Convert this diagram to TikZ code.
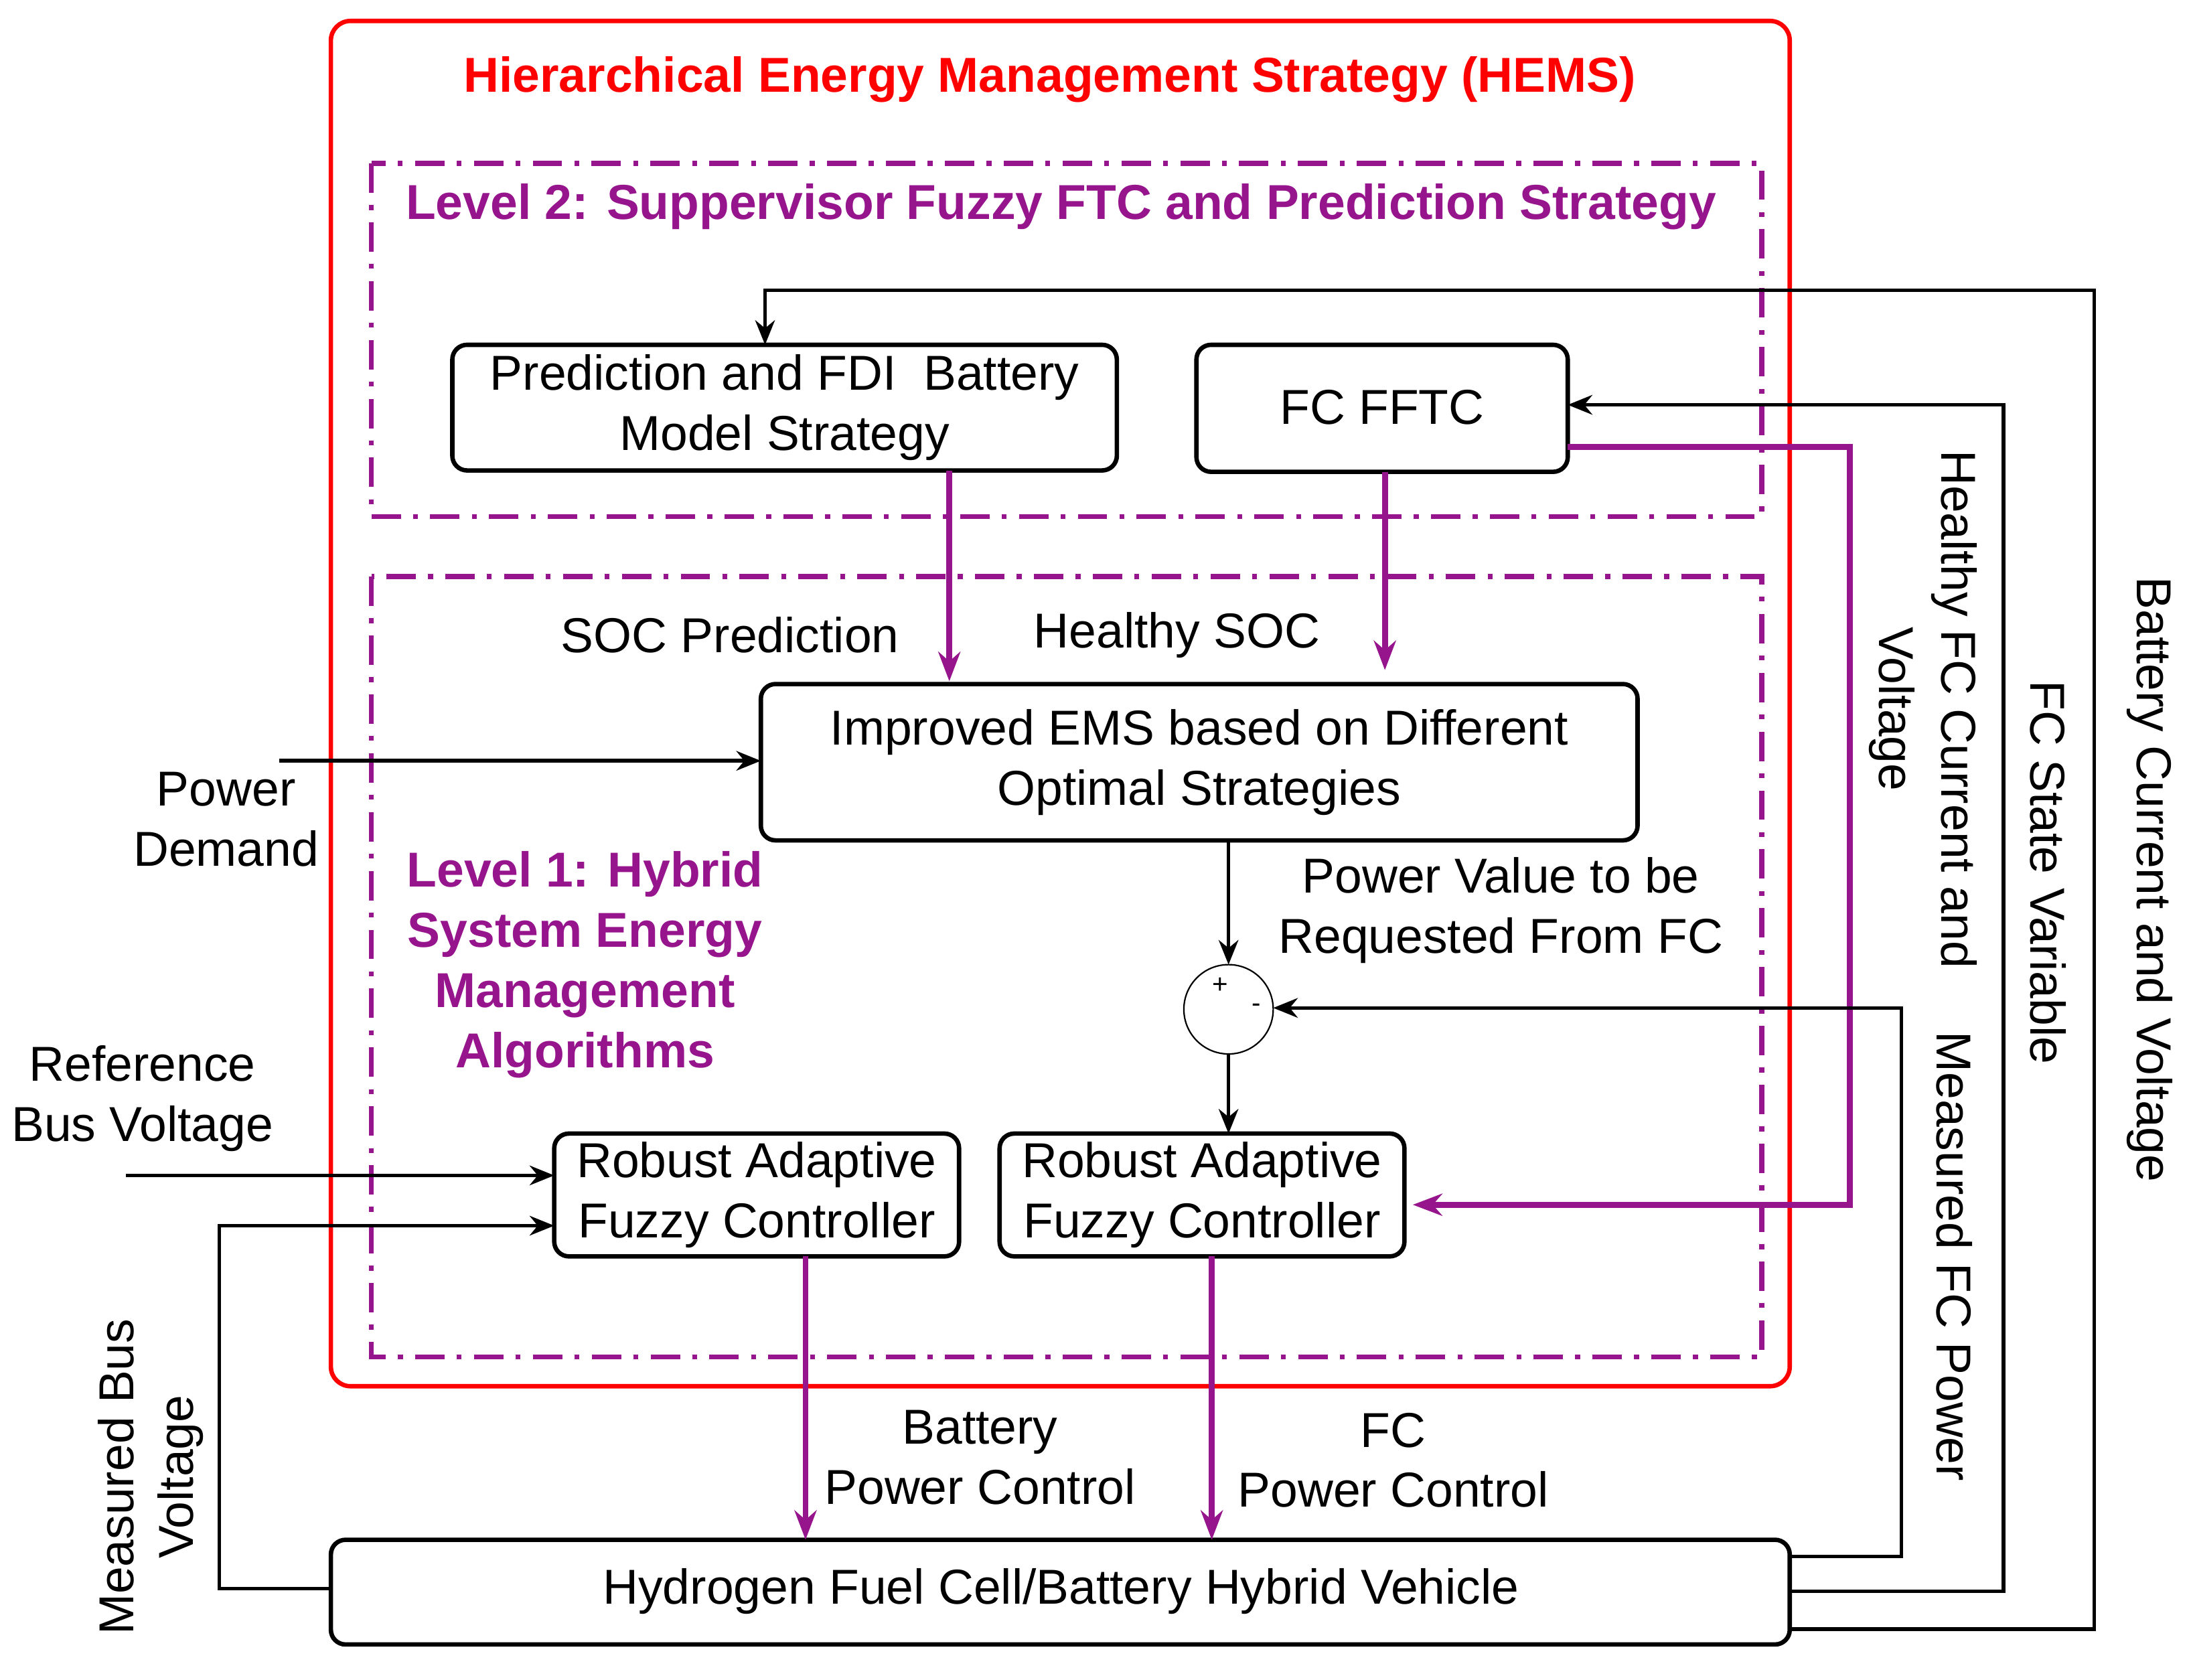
\documentclass[tikz,border=0pt]{standalone}
\usepackage{fontspec}
\setmainfont{Liberation Sans}
\usetikzlibrary{arrows.meta}
\definecolor{pur}{RGB}{150,20,140}
\begin{document}
\begin{tikzpicture}[x=0.02cm,y=-0.02cm,
  every node/.style={font=\fontsize{20}{24.5}\selectfont},
  box/.style={draw,line width=1.8pt,rounded corners=6pt},
  lab/.style={align=center},
  blk/.style={line width=1.5pt,-{Stealth[length=10pt,width=8pt]}},
  prp/.style={pur,line width=2.4pt,-{Stealth[length=12pt,width=9pt]}},
  lvl/.style={pur,line width=2pt,dash pattern=on 12pt off 5pt on 2pt off 5pt}]
\useasboundingbox (0,0) rectangle (1568,1203);
\draw[red,line width=1.8pt,rounded corners=8pt] (237,15) rectangle (1282,993);
\node[red,font=\fontsize{20}{24.5}\selectfont\bfseries] (t) at (752,57) {Hierarchical Energy Management Strategy (HEMS)};
\draw[lvl] (266,117) rectangle (1262,370);
\node[pur,font=\fontsize{20}{24.5}\selectfont\bfseries] (l2) at (760,148) {Level 2: Suppervisor Fuzzy FTC and Prediction Strategy};
\draw[lvl] (266,413) rectangle (1262,972);
\node[pur,font=\fontsize{20}{24.5}\selectfont\bfseries,align=center] (l1) at (419,691) {Level 1: Hybrid\\System Energy\\Management\\Algorithms};

\draw[box] (324,247) rectangle (800,337); \node[lab] (A) at (562,292) {Prediction and FDI\ \ Battery\\Model Strategy};
\coordinate (Ab) at (680,337); \coordinate (At) at (548,247);
\draw[box] (857,247) rectangle (1123,338); \node (B) at (990,292) {FC FFTC};
\coordinate (Bb) at (992,338);
\draw[box] (545,490) rectangle (1173,602); \node[lab] (C) at (859,546) {Improved EMS based on Different\\Optimal Strategies};
\draw[box] (397,812) rectangle (687,900); \node[lab] (D) at (542,856) {Robust Adaptive\\Fuzzy Controller};
\draw[box] (716,812) rectangle (1006,900); \node[lab] (E) at (861,856) {Robust Adaptive\\Fuzzy Controller};
\draw[box] (237,1103) rectangle (1282,1178); \node (F) at (760,1140) {Hydrogen Fuel Cell/Battery Hybrid Vehicle};
\coordinate (S) at (880,723);
\draw[line width=0.6pt] (S) circle[radius=32];
\node[font=\fontsize{11}{11}\selectfont] (sp) at (874,706) {+};
\node[font=\fontsize{11}{11}\selectfont] (sm) at (900,722) {-};

\draw[prp] (Ab) -- (680,488);
\draw[prp] (Bb) -- (992,480);
\node (soc) at (523,455) {SOC Prediction};
\node (hs) at (843,455) {Healthy SOC};
\coordinate (pd) at (200,545);
\draw[blk] (pd) -- (545,545);
\node[lab] (pdl) at (162,587) {Power\\Demand};
\draw[blk] (880,602) -- (880,691);
\node[lab] (pv) at (1075,652) {Power Value to be\\Requested From FC};
\draw[blk] (880,755) -- (880,812);
\coordinate (rb) at (90,842);
\draw[blk] (rb) -- (397,842);
\node[lab] (rbl) at (102,787) {Reference\\Bus Voltage};
\draw[blk] (237,1138) -- (157,1138) -- (157,878) -- (397,878);
\node[lab,rotate=90] (mbv) at (108,1058) {Measured Bus\\Voltage};
\draw[prp] (577,900) -- (577,1103);
\draw[prp] (868,900) -- (868,1103);
\node[lab] (bpc) at (702,1044) {Battery\\Power Control};
\node[lab] (fpc) at (998,1046) {FC\\Power Control};
\draw[prp] (1123,320) -- (1325,320) -- (1325,863) -- (1012,863);
\draw[blk] (1282,1115) -- (1362,1115) -- (1362,722) -- (912,722);
\draw[blk] (1282,1140) -- (1435,1140) -- (1435,290) -- (1123,290);
\draw[blk] (1282,1167) -- (1500,1167) -- (1500,208) -- (548,208) -- (At);
\node[rotate=-90] (h1) at (1400,508) {Healthy FC Current and};
\node[rotate=-90] (h2) at (1355,508) {Voltage};
\node[rotate=-90] (mfp) at (1400,900) {Measured FC Power};
\node[rotate=-90] (fsv) at (1467,625) {FC State Variable};
\node[rotate=-90] (bcv) at (1540,630) {Battery Current and Voltage};
\end{tikzpicture}
\end{document}
